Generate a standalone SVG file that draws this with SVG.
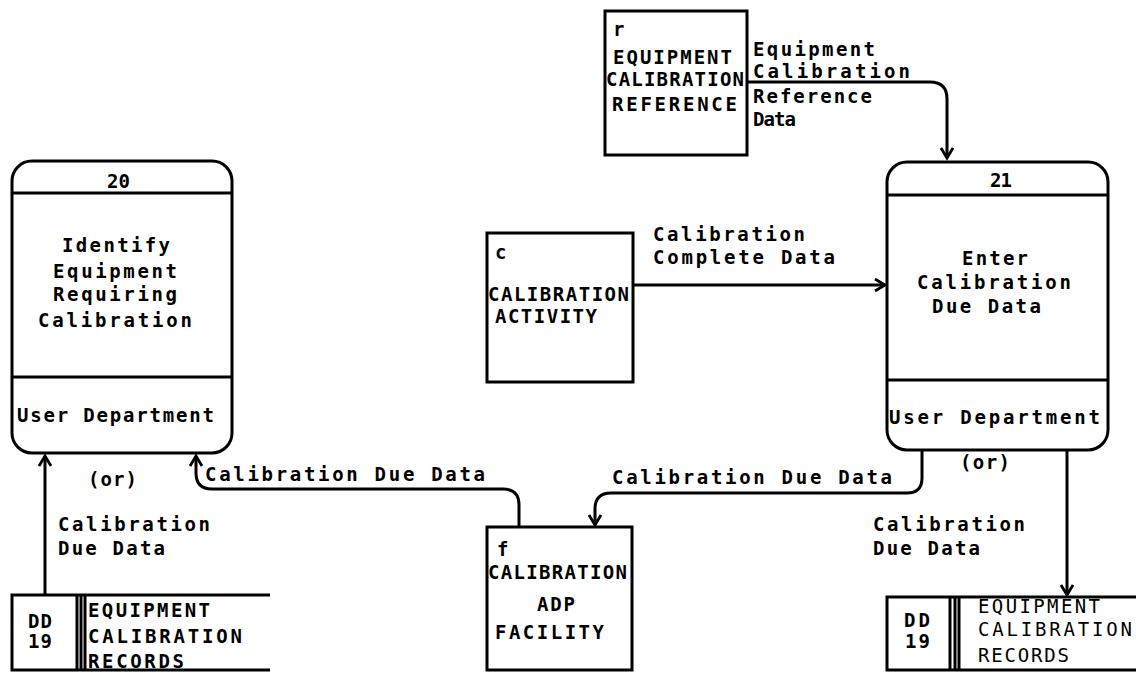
<svg xmlns="http://www.w3.org/2000/svg" width="1136" height="673" viewBox="0 0 1136 673">
<style>
text{font-family:"DejaVu Sans Mono","Liberation Mono",monospace;font-size:19px;font-weight:bold;fill:#000;letter-spacing:3px}
.n{font-weight:normal}
.box{fill:none;stroke:#000;stroke-width:3}
.ln{fill:none;stroke:#000;stroke-width:3}
.flow{fill:none;stroke:#000;stroke-width:3;marker-end:url(#ah)}
</style>
<defs>
<marker id="ah" markerUnits="userSpaceOnUse" markerWidth="16" markerHeight="16" refX="11" refY="7" orient="auto">
<path d="M1,1 L11,7 L1,13" fill="none" stroke="#000" stroke-width="2.8"/>
</marker>
</defs>
<rect width="1136" height="673" fill="#fff"/>

<g id="connectors">
<path class="flow" d="M747 82 H930 Q947 82 947 99 V158"/>
<path class="flow" d="M633 285 H885"/>
<path class="flow" d="M922 451 V478 Q922 493 907 493 H611 Q595 493 595 509 V525"/>
<path class="flow" d="M519 527 V505 Q519 489 503 489 H212 Q196 489 196 473 V456"/>
<path class="flow" d="M45 595 V456"/>
<path class="flow" d="M1067 451 V595"/>
<text x="753" y="56" textLength="125">Equipment</text>
<text x="753" y="78" textLength="160">Calibration</text>
<text x="753" y="103" textLength="122">Reference</text>
<text x="753" y="126" textLength="46">Data</text>
<text x="653" y="241" textLength="155">Calibration</text>
<text x="653" y="264" textLength="185">Complete Data</text>
<text x="205" y="481" textLength="283">Calibration Due Data</text>
<text x="612" y="484" textLength="283">Calibration Due Data</text>
<text x="88" y="486" textLength="52">(or)</text>
<text x="58" y="531" textLength="155">Calibration</text>
<text x="58" y="555" textLength="110">Due Data</text>
<text x="960" y="469" textLength="53">(or)</text>
<text x="873" y="531" textLength="155">Calibration</text>
<text x="873" y="555" textLength="110">Due Data</text>
</g>

<g id="ext-r">
<rect class="box" x="605" y="11" width="142" height="144"/>
<text x="613" y="36">r</text>
<text x="613" y="64" textLength="122">EQUIPMENT</text>
<text x="606" y="86" textLength="141">CALIBRATION</text>
<text x="612" y="111" textLength="128">REFERENCE</text>
</g>

<g id="ext-c">
<rect class="box" x="487" y="233" width="146" height="149"/>
<text x="495" y="259">c</text>
<text x="488" y="301" textLength="144">CALIBRATION</text>
<text x="495" y="323" textLength="105">ACTIVITY</text>
</g>

<g id="ext-f">
<rect class="box" x="487" y="527" width="145" height="143"/>
<text x="497" y="556">f</text>
<text x="488" y="579" textLength="142">CALIBRATION</text>
<text x="537" y="611" textLength="41">ADP</text>
<text x="495" y="639" textLength="112">FACILITY</text>
</g>

<g id="proc-20">
<rect class="box" x="12" y="161" width="220" height="292" rx="20"/>
<line class="ln" x1="12" y1="193" x2="232" y2="193"/>
<line class="ln" x1="12" y1="377" x2="232" y2="377"/>
<text x="107" y="188" textLength="26">20</text>
<text x="62" y="252" textLength="111">Identify</text>
<text x="53" y="278" textLength="127">Equipment</text>
<text x="53" y="301" textLength="127">Requiring</text>
<text x="38" y="327" textLength="157">Calibration</text>
<text x="17" y="422" textLength="200">User Department</text>
</g>

<g id="proc-21">
<rect class="box" x="887" y="162" width="221" height="288" rx="20"/>
<line class="ln" x1="887" y1="195" x2="1108" y2="195"/>
<line class="ln" x1="887" y1="380" x2="1108" y2="380"/>
<text x="990" y="187" textLength="25">21</text>
<text x="962" y="265" textLength="69">Enter</text>
<text x="917" y="289" textLength="157">Calibration</text>
<text x="932" y="313" textLength="112">Due Data</text>
<text x="889" y="424" textLength="214">User Department</text>
</g>

<g id="store-left">
<path class="ln" d="M270 595 H12 V670 H270"/>
<line class="ln" x1="77" y1="595" x2="77" y2="670"/>
<line class="ln" x1="81" y1="595" x2="81" y2="670" stroke-width="2"/>
<line class="ln" x1="85" y1="595" x2="85" y2="670" stroke-width="2"/>
<text x="28" y="628" textLength="27">DD</text>
<text x="28" y="648" textLength="27">19</text>
<text x="88" y="617" textLength="125">EQUIPMENT</text>
<text x="88" y="643" textLength="157">CALIBRATION</text>
<text x="88" y="668" textLength="99">RECORDS</text>
</g>

<g id="store-right">
<path class="ln" d="M1136 597 H887 V670 H1136"/>
<line class="ln" x1="950" y1="597" x2="950" y2="670"/>
<line class="ln" x1="955" y1="597" x2="955" y2="670" stroke-width="2"/>
<line class="ln" x1="959" y1="597" x2="959" y2="670" stroke-width="2"/>
<text x="904" y="627" textLength="29">DD</text>
<text x="905" y="648" textLength="28">19</text>
<text class="n" x="978" y="613" textLength="125">EQUIPMENT</text>
<text class="n" x="978" y="636" textLength="157">CALIBRATION</text>
<text class="n" x="978" y="662" textLength="94">RECORDS</text>
</g>
</svg>
